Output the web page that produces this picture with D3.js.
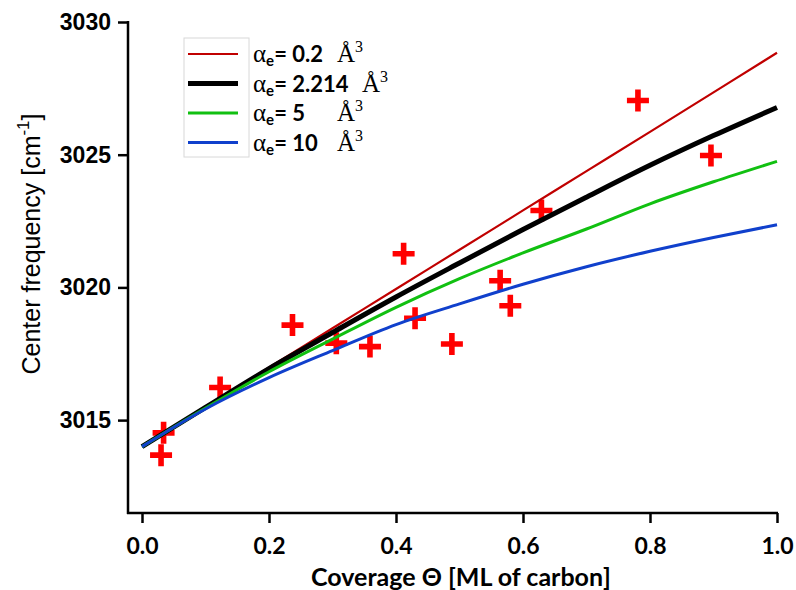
<!DOCTYPE html>
<html>
<head>
<meta charset="utf-8">
<script src="https://cdn.jsdelivr.net/npm/d3@7"></script>
<style>
  html, body { margin: 0; padding: 0; background: #fff; }
  svg { display: block; }
</style>
</head>
<body>
<svg id="chart" width="796" height="590"></svg>
<script>
// Measured center frequencies vs. carbon coverage
const coverage  = [0.034, 0.030, 0.123, 0.237, 0.306, 0.359, 0.412, 0.430, 0.488, 0.564, 0.580, 0.629, 0.781, 0.896];
const frequency = [3014.52, 3013.68, 3016.23, 3018.58, 3017.90, 3017.77, 3021.27, 3018.84, 3017.87, 3020.25, 3019.31, 3022.90, 3027.04, 3024.97];

// Model curves for different polarizabilities
const modelTheta = [0, 0.1, 0.2, 0.3, 0.4, 0.5, 0.6, 0.7, 0.8, 0.9, 1.0];
const model02    = [3014.0, 3015.50, 3016.98, 3018.46, 3019.94, 3021.42, 3022.90, 3024.38, 3025.86, 3027.35, 3028.84];
const model2214  = [3014.0, 3015.48, 3016.94, 3018.30, 3019.64, 3020.92, 3022.18, 3023.40, 3024.60, 3025.72, 3026.78];
const model5     = [3014.0, 3015.45, 3016.82, 3018.05, 3019.25, 3020.33, 3021.30, 3022.20, 3023.15, 3023.98, 3024.75];
const model10    = [3014.0, 3015.42, 3016.60, 3017.62, 3018.60, 3019.38, 3020.12, 3020.78, 3021.36, 3021.88, 3022.36];

const legendValues = ["0.2", "2.214", "5", "10"];
const xTicks = [0, 0.2, 0.4, 0.6, 0.8, 1.0];
const yTicks = [3015, 3020, 3025, 3030];

const series = [
  { values: model02,   color: "#c00000", width: 2.2 },
  { values: model2214, color: "#000000", width: 5 },
  { values: model5,    color: "#11c011", width: 3 },
  { values: model10,   color: "#1040cc", width: 3 }
];

const svg = d3.select("#chart");
const x = d3.scaleLinear().domain([0, 1]).range([142, 777]);
const y = d3.scaleLinear().domain([3011.5, 3030]).range([513, 22]);

// Axes
const xAxis = svg.append("g").attr("transform", "translate(0,513)")
  .call(d3.axisBottom(x).tickValues(xTicks).tickFormat(d3.format(".1f")).tickSize(10).tickSizeOuter(0));
xAxis.select(".domain").attr("d", "M127,0H778");
xAxis.selectAll(".domain, .tick line").attr("stroke", "#000").attr("stroke-width", 2.5);
xAxis.selectAll(".tick text")
  .attr("y", 25)
  .attr("font-family", "Lato, 'Open Sans', sans-serif").attr("font-weight", "bold")
  .attr("font-size", 23).attr("fill", "#000");

const yAxis = svg.append("g").attr("transform", "translate(128,0)")
  .call(d3.axisLeft(y).tickValues(yTicks).tickFormat(d3.format("d")).tickSize(10).tickSizeOuter(0));
yAxis.select(".domain").attr("d", "M0,21V514");
yAxis.selectAll(".domain, .tick line").attr("stroke", "#000").attr("stroke-width", 2.5);
yAxis.selectAll(".tick text")
  .attr("x", -17)
  .attr("font-family", "'Liberation Sans', Arial, sans-serif").attr("font-weight", "bold")
  .attr("font-size", 23).attr("fill", "#000");

// Axis titles
const yTitle = svg.append("text")
  .attr("transform", "translate(40,244) rotate(-90)")
  .attr("text-anchor", "middle")
  .attr("font-family", "'Liberation Sans', Arial, sans-serif")
  .attr("font-size", 25).attr("fill", "#000");
yTitle.append("tspan").text("Center frequency [cm");
yTitle.append("tspan").attr("dy", -11).attr("font-size", 17).text("-1");
yTitle.append("tspan").attr("dy", 11).text("]");

svg.append("text")
  .attr("x", 461).attr("y", 586)
  .attr("text-anchor", "middle")
  .attr("font-family", "Lato, 'Open Sans', sans-serif").attr("font-weight", "bold")
  .attr("font-size", 25).attr("fill", "#000")
  .text("Coverage \u0398 [ML of carbon]");

// Data points as plus markers (drawn beneath the model curves)
const arm = 11, half = 2.8;
const crossPath = `M${-arm},${-half}H${-half}V${-arm}H${half}V${-half}H${arm}V${half}H${half}V${arm}H${-half}V${half}H${-arm}Z`;
svg.append("g").selectAll("path")
  .data(coverage.map((c, i) => [c, frequency[i]]))
  .join("path")
  .attr("d", crossPath)
  .attr("transform", d => `translate(${x(d[0])},${y(d[1])})`)
  .attr("fill", "#ff0000");

// Model curves
const lineGen = d3.line().x((d, i) => x(modelTheta[i])).y(d => y(d)).curve(d3.curveMonotoneX);
svg.append("g").selectAll("path")
  .data(series)
  .join("path")
  .attr("d", s => lineGen(s.values))
  .attr("fill", "none")
  .attr("stroke", s => s.color)
  .attr("stroke-width", s => s.width)
  .attr("stroke-linejoin", "round");

// Legend
const legend = svg.append("g");
legend.append("rect")
  .attr("x", 184).attr("y", 38).attr("width", 65).attr("height", 119)
  .attr("fill", "none").attr("stroke", "#d8d8d8").attr("stroke-width", 1);

const rowY = [54, 83.5, 113, 142.5];
const angX = [337, 362, 337, 337];
series.forEach((s, i) => {
  legend.append("line")
    .attr("x1", 188).attr("x2", 238).attr("y1", rowY[i]).attr("y2", rowY[i])
    .attr("stroke", s.color).attr("stroke-width", s.width);
  const t = legend.append("text")
    .attr("x", 253).attr("y", rowY[i] + 8)
    .attr("fill", "#000");
  t.append("tspan").attr("font-family", "'Liberation Serif', 'Times New Roman', serif")
    .attr("font-size", 25).text("\u03b1");
  t.append("tspan").attr("font-family", "Lato, sans-serif").attr("font-weight", "bold")
    .attr("font-size", 15).attr("dy", 4).text("e");
  t.append("tspan").attr("font-family", "Lato, sans-serif").attr("font-weight", "bold")
    .attr("font-size", 22).attr("dy", -4).text("= " + legendValues[i]);
  t.append("tspan").attr("font-family", "'Liberation Serif', 'Times New Roman', serif")
    .attr("font-size", 25).attr("x", angX[i]).text("\u00c5");
  t.append("tspan").attr("font-family", "'Liberation Serif', 'Times New Roman', serif")
    .attr("font-size", 16).attr("dy", -10).text("3");
});
</script>
</body>
</html>
